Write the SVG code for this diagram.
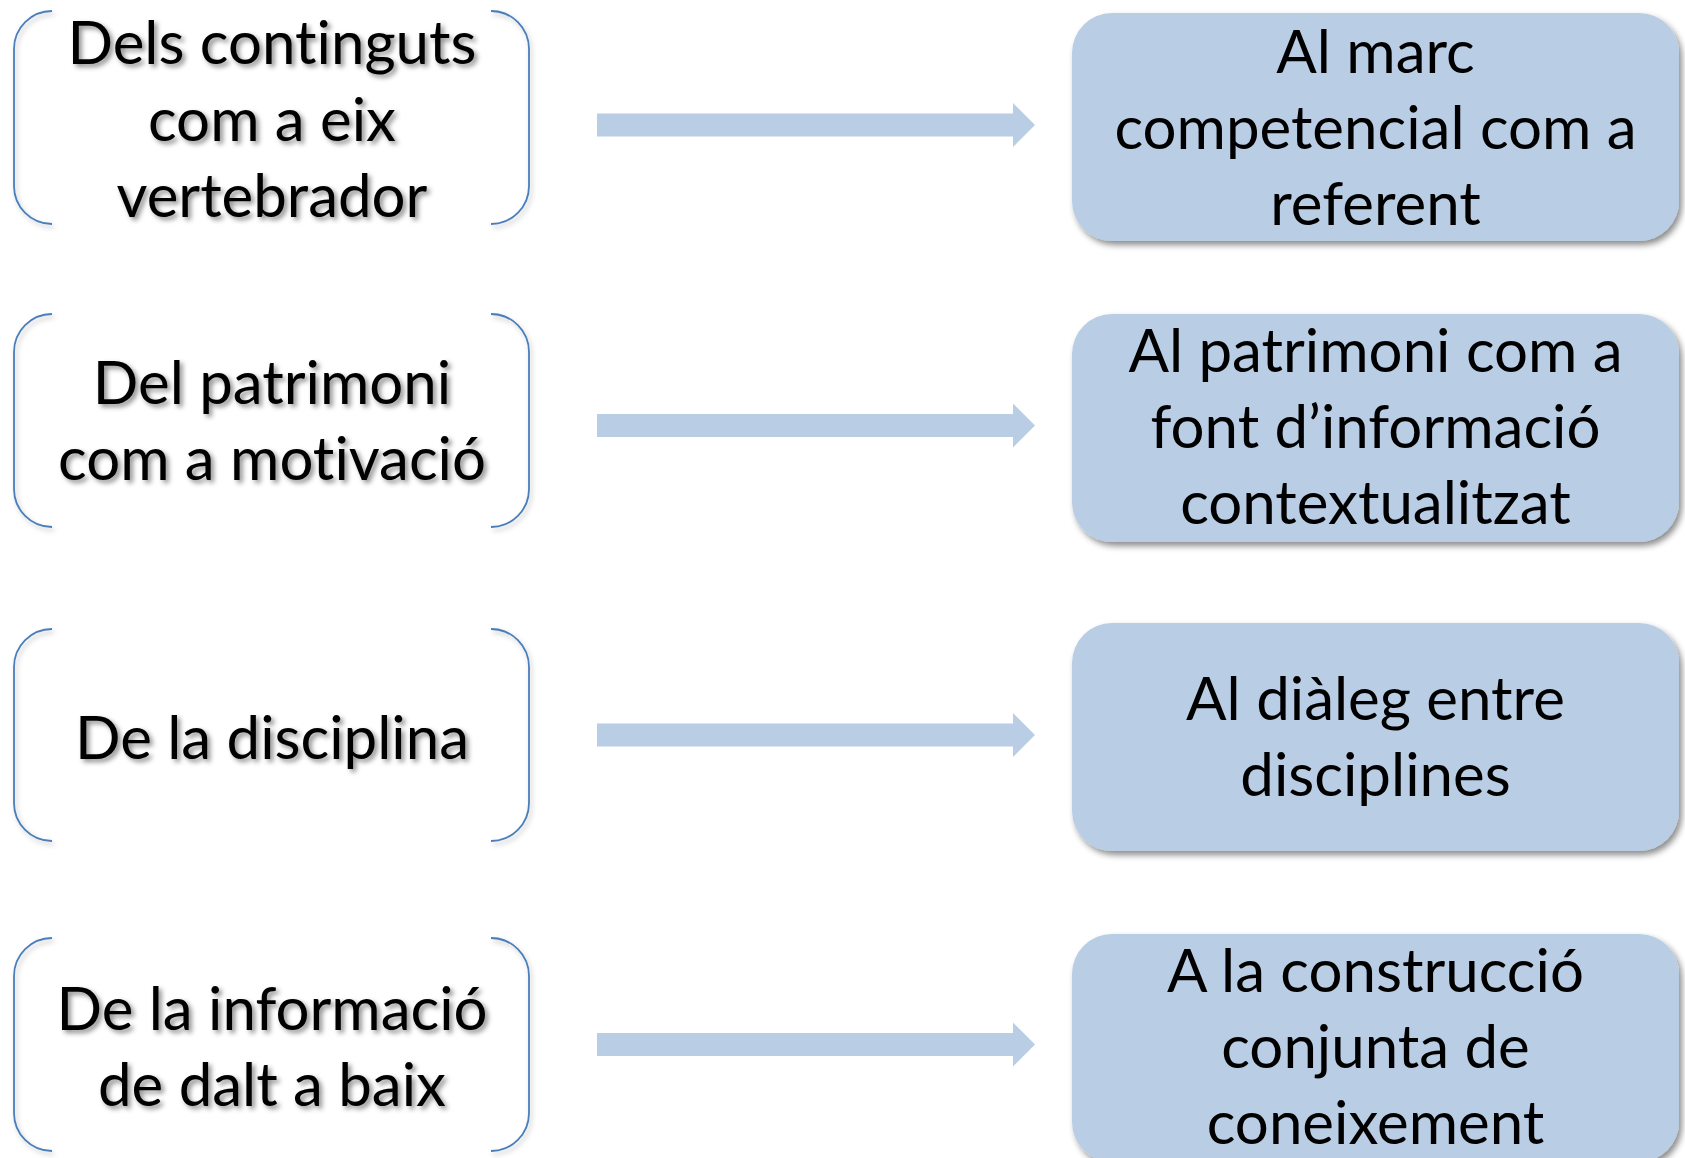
<svg xmlns="http://www.w3.org/2000/svg" width="1685" height="1158" viewBox="0 0 1685 1158">
<defs>
<filter id="boxShadow" x="-10%" y="-10%" width="125%" height="130%">
<feDropShadow dx="3" dy="4" stdDeviation="3" flood-color="#000" flood-opacity="0.45"/>
</filter>
<filter id="textShadow" x="-10%" y="-20%" width="125%" height="150%">
<feDropShadow dx="3" dy="3" stdDeviation="2.5" flood-color="#000" flood-opacity="0.45"/>
</filter>
<filter id="brShadow" x="-10%" y="-10%" width="125%" height="130%">
<feDropShadow dx="2" dy="3" stdDeviation="2.5" flood-color="#000" flood-opacity="0.25"/>
</filter>
</defs>
<style>
.br{fill:none;stroke:#4a7ebb;stroke-width:1.8;filter:url(#brShadow)}
.box{fill:#b9cde5;filter:url(#boxShadow)}
.arrow{fill:#b9cde5}
.lt{font-family:Lato,"Liberation Sans",sans-serif;font-size:60px;fill:#000;text-anchor:middle;font-variant-ligatures:none;filter:url(#textShadow)}
.rt{font-family:Lato,"Liberation Sans",sans-serif;font-size:60px;fill:#000;text-anchor:middle;font-variant-ligatures:none}
</style>
<rect width="1685" height="1158" fill="#fff"/>

<g id="connectors">
<path class="arrow" d="M597 113.5H1013V103L1035 125L1013 147V136.5H597Z"/>
<path class="arrow" d="M597 414H1013V403.5L1035 425.5L1013 447.5V437H597Z"/>
<path class="arrow" d="M597 723.5H1013V713L1035 735L1013 757V746.5H597Z"/>
<path class="arrow" d="M597 1033H1013V1022.5L1035 1044.5L1013 1066.5V1056H597Z"/>
</g>

<g id="left1">
<path class="br" d="M52 11A38 38 0 0 0 14 49V186A38 38 0 0 0 52 224M491 11A38 38 0 0 1 529 49V186A38 38 0 0 1 491 224"/>
<text class="lt" x="272"><tspan x="272" y="64">Dels continguts</tspan><tspan x="272" y="141">com a eix</tspan><tspan x="272" y="217">vertebrador</tspan></text>
</g>
<g id="left2">
<path class="br" d="M52 314A38 38 0 0 0 14 352V489A38 38 0 0 0 52 527M491 314A38 38 0 0 1 529 352V489A38 38 0 0 1 491 527"/>
<text class="lt" x="272"><tspan x="272" y="404">Del patrimoni</tspan><tspan x="272" y="480">com a motivació</tspan></text>
</g>
<g id="left3">
<path class="br" d="M52 629A38 38 0 0 0 14 667V803A38 38 0 0 0 52 841M491 629A38 38 0 0 1 529 667V803A38 38 0 0 1 491 841"/>
<text class="lt" x="272" y="759">De la disciplina</text>
</g>
<g id="left4">
<path class="br" d="M52 938A38 38 0 0 0 14 976V1113A38 38 0 0 0 52 1151M491 938A38 38 0 0 1 529 976V1113A38 38 0 0 1 491 1151"/>
<text class="lt" x="272"><tspan x="272" y="1030">De la informació</tspan><tspan x="272" y="1106">de dalt a baix</tspan></text>
</g>

<g id="right1">
<rect class="box" x="1072" y="13" width="607" height="228" rx="40"/>
<text class="rt"><tspan x="1375.5" y="73">Al marc</tspan><tspan x="1375.5" y="149">competencial com a</tspan><tspan x="1375.5" y="225">referent</tspan></text>
</g>
<g id="right2">
<rect class="box" x="1072" y="314" width="607" height="228" rx="40"/>
<text class="rt"><tspan x="1375.5" y="372">Al patrimoni com a</tspan><tspan x="1375.5" y="448">font d’informació</tspan><tspan x="1375.5" y="524">contextualitzat</tspan></text>
</g>
<g id="right3">
<rect class="box" x="1072" y="623" width="607" height="228" rx="40"/>
<text class="rt"><tspan x="1375.5" y="720">Al diàleg entre</tspan><tspan x="1375.5" y="796">disciplines</tspan></text>
</g>
<g id="right4">
<rect class="box" x="1072" y="934" width="607" height="228" rx="40"/>
<text class="rt"><tspan x="1375.5" y="992">A la construcció</tspan><tspan x="1375.5" y="1068">conjunta de</tspan><tspan x="1375.5" y="1144">coneixement</tspan></text>
</g>
</svg>
